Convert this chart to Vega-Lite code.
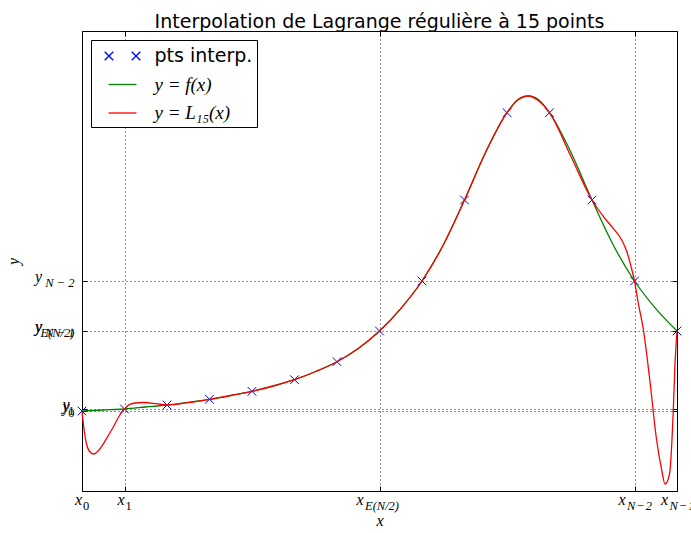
{
  "$schema": "https://vega.github.io/schema/vega-lite/v6.json",
  "width": 595,
  "height": 460,
  "autosize": "none",
  "padding": {"left": 82, "top": 31, "right": 14, "bottom": 42},
  "background": "white",
  "title": {"text": "Interpolation de Lagrange régulière à 15 points", "font": "DejaVu Sans", "fontSize": 19, "fontWeight": "normal", "color": "black", "anchor": "middle", "baseline": "alphabetic", "offset": 6, "dy": 22},
  "datasets": {
    "pts": [
      {"t": 0, "y": 0.80}, {"t": 1, "y": 0.82}, {"t": 2, "y": 0.86}, {"t": 3, "y": 0.917}, {"t": 4, "y": 0.997},
      {"t": 5, "y": 1.113}, {"t": 6, "y": 1.293}, {"t": 7, "y": 1.60}, {"t": 8, "y": 2.10}, {"t": 9, "y": 2.91},
      {"t": 10, "y": 3.783}, {"t": 11, "y": 3.783}, {"t": 12, "y": 2.91}, {"t": 13, "y": 2.10}, {"t": 14, "y": 1.60}
    ],
    "f": [
      {"t": 0, "y": 0.80}, {"t": 0.5, "y": 0.81}, {"t": 1, "y": 0.82}, {"t": 1.5, "y": 0.84}, {"t": 2, "y": 0.86},
      {"t": 2.5, "y": 0.887}, {"t": 3, "y": 0.917}, {"t": 3.5, "y": 0.955}, {"t": 4, "y": 0.997}, {"t": 4.5, "y": 1.05},
      {"t": 5, "y": 1.113}, {"t": 5.5, "y": 1.195}, {"t": 6, "y": 1.293}, {"t": 6.5, "y": 1.425}, {"t": 7, "y": 1.60},
      {"t": 7.5, "y": 1.824}, {"t": 8, "y": 2.10}, {"t": 8.5, "y": 2.46}, {"t": 9, "y": 2.91}, {"t": 9.5, "y": 3.39},
      {"t": 10, "y": 3.783}, {"t": 10.25, "y": 3.91}, {"t": 10.5, "y": 3.95}, {"t": 10.75, "y": 3.91}, {"t": 11, "y": 3.783},
      {"t": 11.5, "y": 3.39}, {"t": 12, "y": 2.91}, {"t": 12.5, "y": 2.46}, {"t": 13, "y": 2.10}, {"t": 13.5, "y": 1.824},
      {"t": 14, "y": 1.60}
    ],
    "L": [
      {"t": 0, "y": 0.80}, {"t": 0.05, "y": 0.61}, {"t": 0.1, "y": 0.48}, {"t": 0.17, "y": 0.40}, {"t": 0.27, "y": 0.37},
      {"t": 0.36, "y": 0.393}, {"t": 0.46, "y": 0.443}, {"t": 0.58, "y": 0.527}, {"t": 0.74, "y": 0.643}, {"t": 0.89, "y": 0.76},
      {"t": 1, "y": 0.82}, {"t": 1.1, "y": 0.86}, {"t": 1.25, "y": 0.88}, {"t": 1.45, "y": 0.885}, {"t": 1.75, "y": 0.873},
      {"t": 2, "y": 0.86}, {"t": 2.5, "y": 0.883}, {"t": 3, "y": 0.917}, {"t": 3.5, "y": 0.955}, {"t": 4, "y": 0.997},
      {"t": 4.5, "y": 1.05}, {"t": 5, "y": 1.113}, {"t": 5.5, "y": 1.195}, {"t": 6, "y": 1.293}, {"t": 6.5, "y": 1.425},
      {"t": 7, "y": 1.60}, {"t": 7.5, "y": 1.824}, {"t": 8, "y": 2.10}, {"t": 8.5, "y": 2.46}, {"t": 9, "y": 2.91},
      {"t": 9.5, "y": 3.39}, {"t": 10, "y": 3.783}, {"t": 10.25, "y": 3.91}, {"t": 10.5, "y": 3.95}, {"t": 10.75, "y": 3.90},
      {"t": 11, "y": 3.783}, {"t": 11.5, "y": 3.35}, {"t": 12, "y": 2.91}, {"t": 12.27, "y": 2.743}, {"t": 12.5, "y": 2.627},
      {"t": 12.7, "y": 2.51}, {"t": 12.82, "y": 2.393}, {"t": 12.93, "y": 2.227}, {"t": 13, "y": 2.10}, {"t": 13.09, "y": 1.877},
      {"t": 13.21, "y": 1.61}, {"t": 13.36, "y": 1.11}, {"t": 13.52, "y": 0.51}, {"t": 13.64, "y": 0.21}, {"t": 13.72, "y": 0.07},
      {"t": 13.82, "y": 0.16}, {"t": 13.91, "y": 0.777}, {"t": 13.95, "y": 1.243}, {"t": 14, "y": 1.60}
    ],
    "xlab": [
      {"t": 0, "sub": "0"}, {"t": 1, "sub": "1"}, {"t": 7, "sub": "E(N/2)"}, {"t": 13, "sub": "N\u200a−\u200a2"}, {"t": 14, "sub": "N\u200a−\u200a1"}
    ],
    "ylab": [
      {"y": 0.80, "sub": "0"}, {"y": 0.82, "sub": "1"}, {"y": 1.60, "sub": "E(N/2)"}, {"y": 1.60, "sub": "N − 1"}, {"y": 2.10, "sub": "N − 2"}
    ]
  },
  "layer": [
    {
      "data": {"name": "pts"},
      "mark": {"type": "point", "shape": "M-1,-1L1,1M-1,1L1,-1", "size": 74, "filled": false, "strokeWidth": 1, "opacity": 1},
      "encoding": {
        "x": {"field": "t", "type": "quantitative", "scale": {"domain": [0, 14], "nice": false, "zero": false},
          "axis": {"orient": "bottom", "values": [0, 1, 7, 13, 14], "labels": false, "grid": true, "gridColor": "black", "gridDash": [1, 3], "gridWidth": 1, "gridOpacity": 0.85,
            "ticks": true, "tickSize": -5, "tickColor": "black", "tickWidth": 1, "domain": false,
            "title": "x", "titleFont": "Liberation Serif", "titleFontStyle": "italic", "titleFontWeight": "normal", "titleFontSize": 16, "titleColor": "black", "titlePadding": 21}},
        "y": {"field": "y", "type": "quantitative", "scale": {"domain": [0, 4.6], "nice": false, "zero": false},
          "axis": {"orient": "left", "values": [0.8, 0.82, 1.6, 2.1], "labels": false, "grid": true, "gridColor": "black", "gridDash": [1, 3], "gridWidth": 1, "gridOpacity": 0.85,
            "ticks": true, "tickSize": -5, "tickColor": "black", "tickWidth": 1, "domain": false,
            "title": "y", "titleFont": "Liberation Serif", "titleFontStyle": "italic", "titleFontWeight": "normal", "titleFontSize": 16, "titleColor": "black", "titlePadding": 63, "titleBaseline": "alphabetic"}},
        "color": {"datum": "pts interp.", "type": "nominal",
          "scale": {"domain": ["pts interp.", "y = f(x)", "y = L₁₅(x)"], "range": ["#0000ff", "#008000", "#ff0000"]},
          "legend": {"orient": "top-left", "offset": 9, "title": null, "padding": 4, "strokeColor": "black", "fillColor": "white",
            "labelFontSize": 19, "labelColor": "black", "labelLimit": 300,
            "labelFont": {"expr": "datum.value === 'pts interp.' ? 'DejaVu Sans' : 'Liberation Serif'"},
            "labelFontStyle": {"expr": "datum.value === 'pts interp.' ? 'normal' : 'italic'"},
            "symbolType": {"expr": "datum.value === 'pts interp.' ? 'M-1.62,-0.39L-0.84,0.39M-1.62,0.39L-0.84,-0.39M0.84,-0.39L1.62,0.39M0.84,0.39L1.62,-0.39' : 'M-1.27,0L1.27,0'"},
            "symbolSize": 484, "symbolStrokeWidth": 1.3, "symbolOffset": 15.5, "rowPadding": 6.5, "labelOffset": 20,
            "labelExpr": "datum.value === 'y = L₁₅(x)' ? datum.label + '       ' : datum.label"}}
      }
    },
    {
      "data": {"name": "f"},
      "mark": {"type": "line", "interpolate": "monotone", "strokeWidth": 1.3},
      "encoding": {
        "x": {"field": "t", "type": "quantitative", "axis": null},
        "y": {"field": "y", "type": "quantitative", "axis": null},
        "color": {"datum": "y = f(x)", "type": "nominal"}
      }
    },
    {
      "data": {"name": "L"},
      "mark": {"type": "line", "interpolate": "monotone", "strokeWidth": 1.3},
      "encoding": {
        "x": {"field": "t", "type": "quantitative", "axis": null},
        "y": {"field": "y", "type": "quantitative", "axis": null},
        "color": {"datum": "y = L₁₅(x)", "type": "nominal"}
      }
    },
    {
      "data": {"name": "pts"},
      "mark": {"type": "point", "opacity": 0},
      "encoding": {
        "x": {"field": "t", "type": "quantitative",
          "axis": {"orient": "top", "values": [0, 1, 7, 13, 14], "labels": false, "grid": false, "ticks": true, "tickSize": -5, "tickColor": "black", "tickWidth": 1, "domain": false, "title": null}},
        "y": {"field": "y", "type": "quantitative",
          "axis": {"orient": "right", "values": [0.8, 0.82, 1.6, 2.1], "labels": false, "grid": false, "ticks": true, "tickSize": -5, "tickColor": "black", "tickWidth": 1, "domain": false, "title": null}}
      }
    },
    {
      "data": {"name": "ylab"},
      "transform": [{"filter": "length(datum.sub) == 1"}],
      "mark": {"type": "text", "text": "y", "font": "Liberation Serif", "fontStyle": "italic", "fontSize": 16, "align": "right", "baseline": "alphabetic", "dx": -12.5, "dy": 1, "color": "black"},
      "encoding": {"x": {"datum": 0, "type": "quantitative", "axis": null}, "y": {"field": "y", "type": "quantitative", "axis": null}}
    },
    {
      "data": {"name": "ylab"},
      "transform": [{"filter": "length(datum.sub) > 1"}],
      "mark": {"type": "text", "text": "y", "font": "Liberation Serif", "fontStyle": "italic", "fontSize": 16, "align": "right", "baseline": "alphabetic", "dx": -40, "dy": 1, "color": "black"},
      "encoding": {"x": {"datum": 0, "type": "quantitative", "axis": null}, "y": {"field": "y", "type": "quantitative", "axis": null}}
    },
    {
      "data": {"name": "ylab"},
      "transform": [{"filter": "length(datum.sub) == 1"}],
      "mark": {"type": "text", "font": "Liberation Serif", "fontStyle": "normal", "fontSize": 12.5, "align": "right", "baseline": "alphabetic", "dx": -7.5, "dy": 5.7, "color": "black"},
      "encoding": {"x": {"datum": 0, "type": "quantitative", "axis": null}, "y": {"field": "y", "type": "quantitative", "axis": null}, "text": {"field": "sub"}}
    },
    {
      "data": {"name": "ylab"},
      "transform": [{"filter": "length(datum.sub) > 1"}],
      "mark": {"type": "text", "font": "Liberation Serif", "fontStyle": "italic", "fontSize": 12.5, "align": "right", "baseline": "alphabetic", "dx": -7.5, "dy": 5.7, "color": "black"},
      "encoding": {"x": {"datum": 0, "type": "quantitative", "axis": null}, "y": {"field": "y", "type": "quantitative", "axis": null}, "text": {"field": "sub"}}
    },
    {
      "data": {"name": "xlab"},
      "transform": [{"filter": "length(datum.sub) == 1"}],
      "mark": {"type": "text", "text": "x", "font": "Liberation Serif", "fontStyle": "italic", "fontSize": 16, "align": "right", "baseline": "alphabetic", "dx": 0, "dy": 14, "color": "black"},
      "encoding": {"x": {"field": "t", "type": "quantitative", "axis": null}, "y": {"datum": 0, "type": "quantitative", "axis": null}}
    },
    {
      "data": {"name": "xlab"},
      "transform": [{"filter": "datum.sub == 'E(N/2)'"}],
      "mark": {"type": "text", "text": "x", "font": "Liberation Serif", "fontStyle": "italic", "fontSize": 16, "align": "right", "baseline": "alphabetic", "dx": -16, "dy": 14, "color": "black"},
      "encoding": {"x": {"field": "t", "type": "quantitative", "axis": null}, "y": {"datum": 0, "type": "quantitative", "axis": null}}
    },
    {
      "data": {"name": "xlab"},
      "transform": [{"filter": "indexof(datum.sub, 'N') == 0"}],
      "mark": {"type": "text", "text": "x", "font": "Liberation Serif", "fontStyle": "italic", "fontSize": 16, "align": "right", "baseline": "alphabetic", "dx": -9, "dy": 14, "color": "black"},
      "encoding": {"x": {"field": "t", "type": "quantitative", "axis": null}, "y": {"datum": 0, "type": "quantitative", "axis": null}}
    },
    {
      "data": {"name": "xlab"},
      "transform": [{"filter": "length(datum.sub) == 1"}],
      "mark": {"type": "text", "font": "Liberation Serif", "fontStyle": "normal", "fontSize": 12.5, "align": "left", "baseline": "alphabetic", "dx": 1, "dy": 19, "color": "black"},
      "encoding": {"x": {"field": "t", "type": "quantitative", "axis": null}, "y": {"datum": 0, "type": "quantitative", "axis": null}, "text": {"field": "sub"}}
    },
    {
      "data": {"name": "xlab"},
      "transform": [{"filter": "datum.sub == 'E(N/2)'"}],
      "mark": {"type": "text", "font": "Liberation Serif", "fontStyle": "italic", "fontSize": 12.5, "align": "left", "baseline": "alphabetic", "dx": -14.5, "dy": 19, "color": "black"},
      "encoding": {"x": {"field": "t", "type": "quantitative", "axis": null}, "y": {"datum": 0, "type": "quantitative", "axis": null}, "text": {"field": "sub"}}
    },
    {
      "data": {"name": "xlab"},
      "transform": [{"filter": "indexof(datum.sub, 'N') == 0"}],
      "mark": {"type": "text", "font": "Liberation Serif", "fontStyle": "italic", "fontSize": 12.5, "align": "left", "baseline": "alphabetic", "dx": -7.5, "dy": 19, "color": "black"},
      "encoding": {"x": {"field": "t", "type": "quantitative", "axis": null}, "y": {"datum": 0, "type": "quantitative", "axis": null}, "text": {"field": "sub"}}
    }
  ],
  "resolve": {"axis": {"x": "independent", "y": "independent"}},
  "config": {
    "view": {"stroke": "black", "strokeWidth": 1}
  }
}
